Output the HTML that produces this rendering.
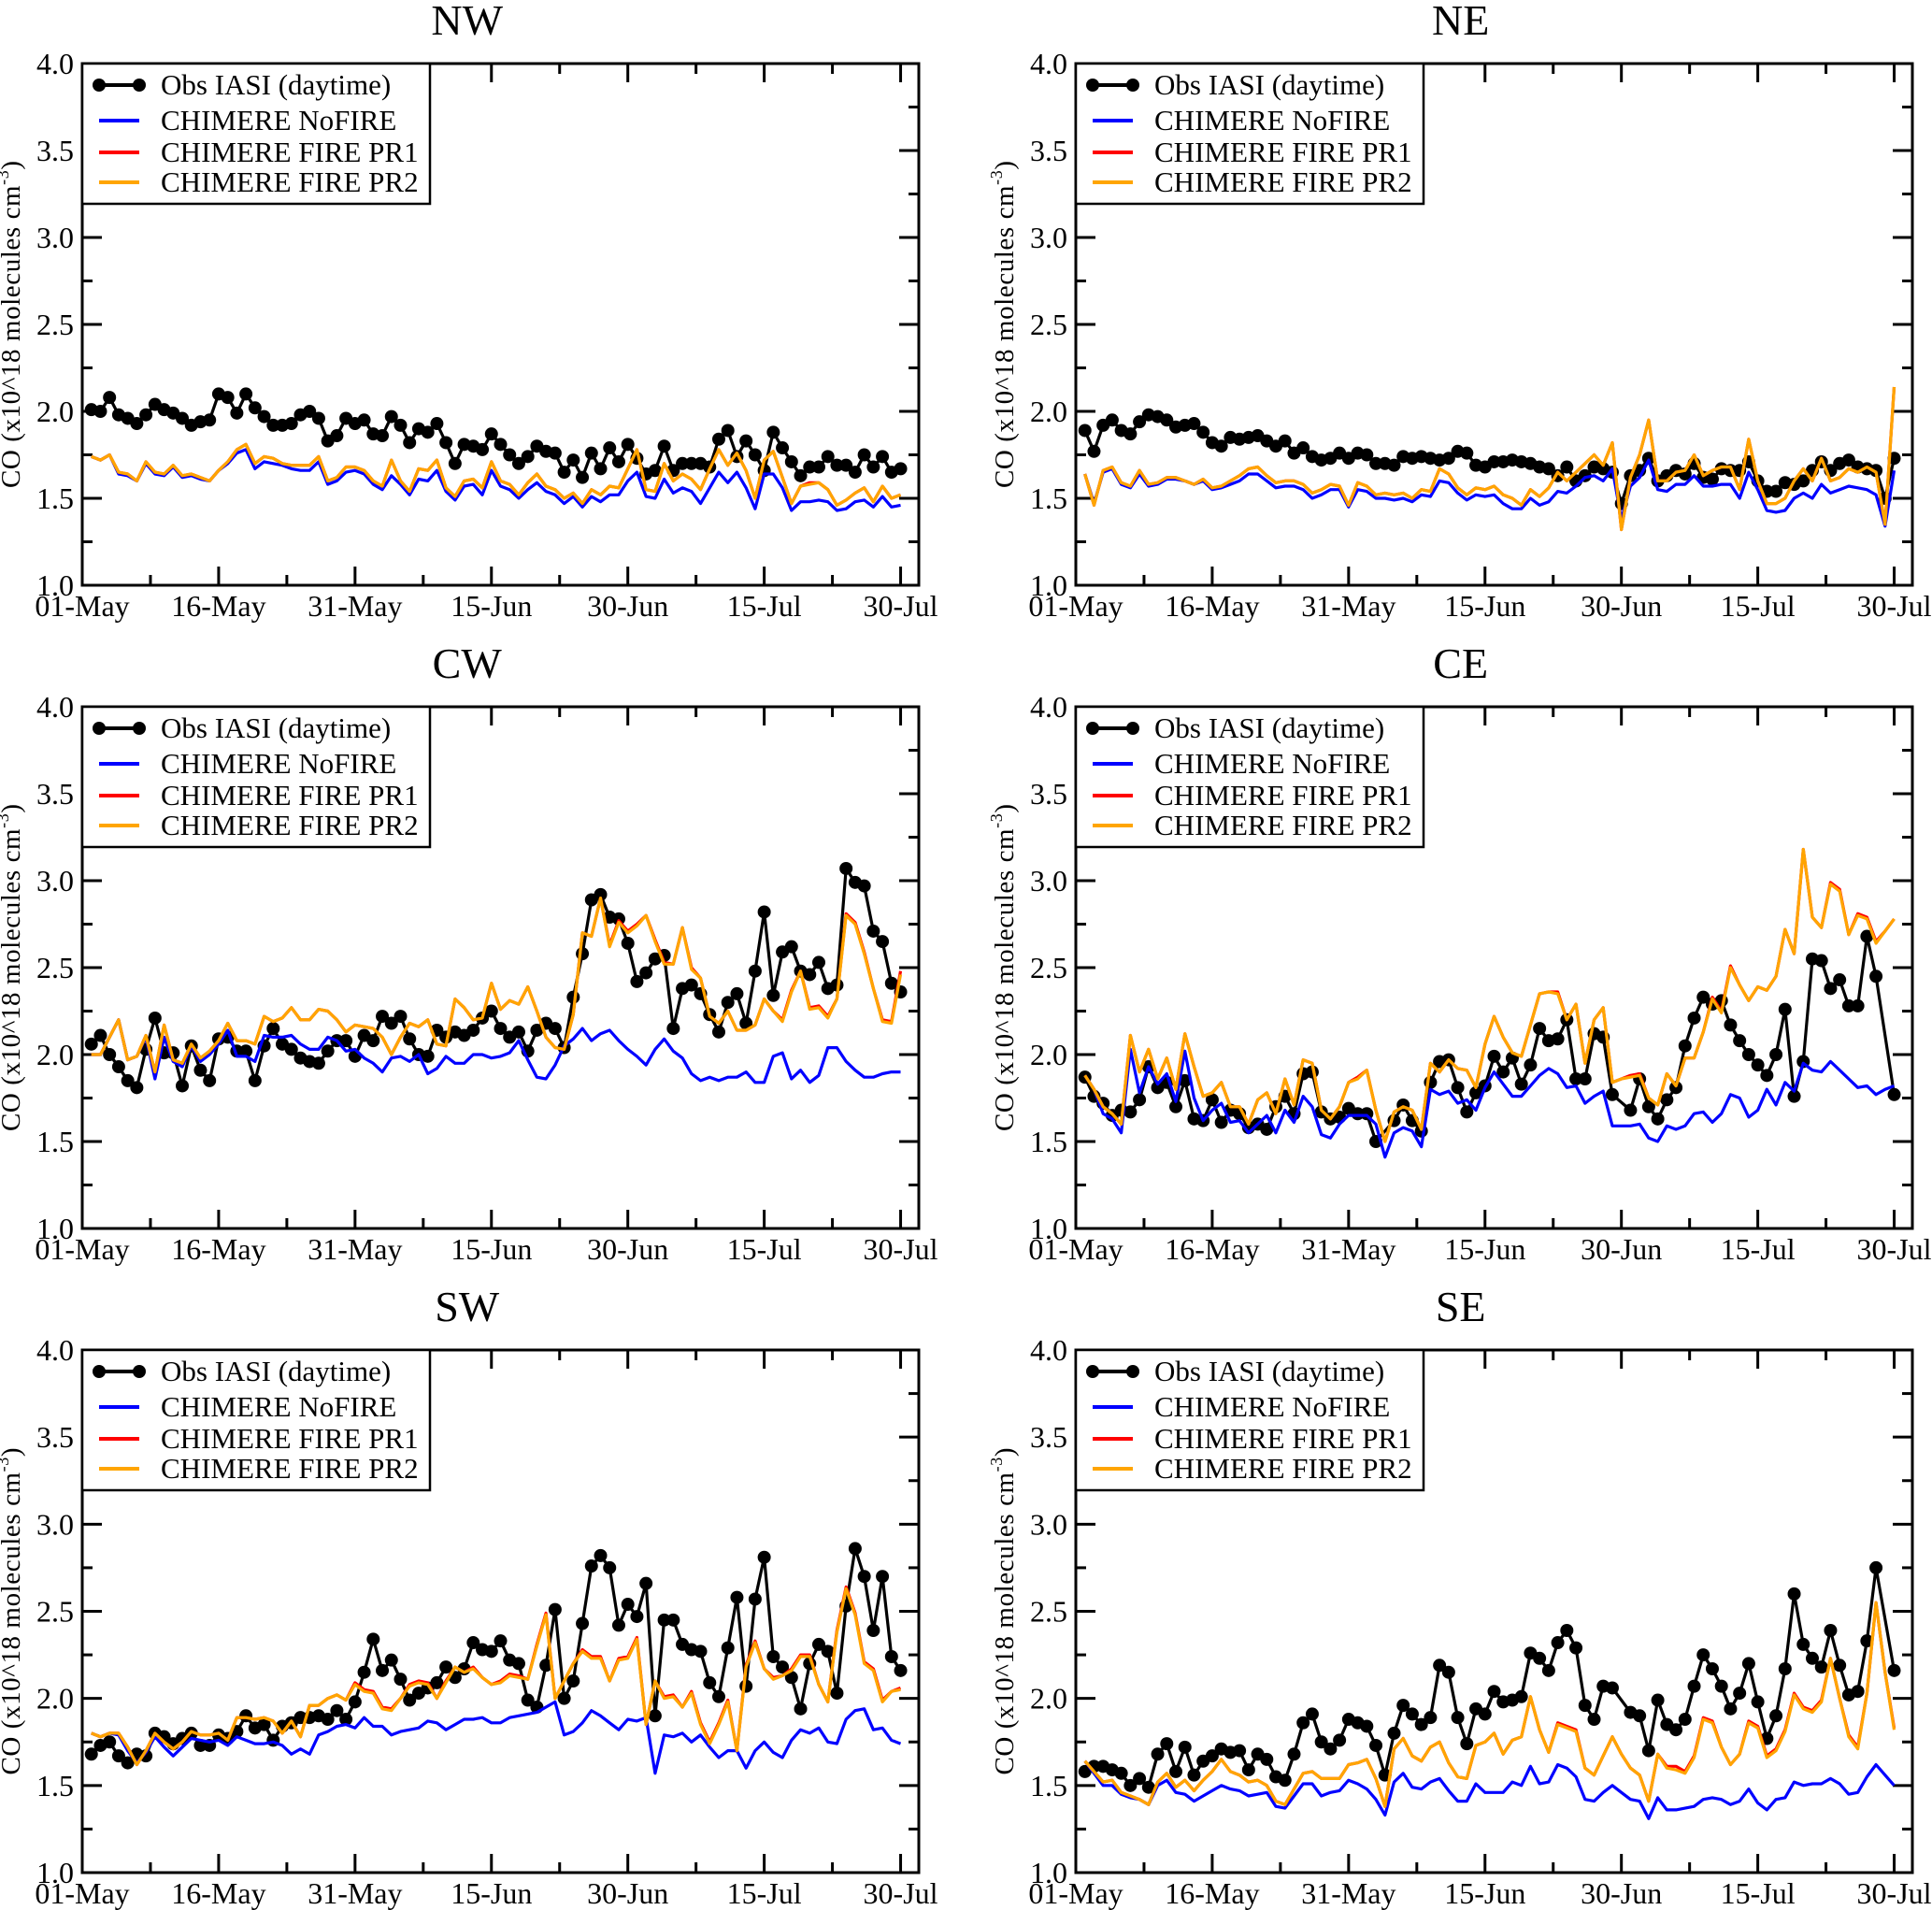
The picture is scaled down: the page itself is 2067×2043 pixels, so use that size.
<!DOCTYPE html>
<html><head><meta charset="utf-8"><style>
html,body{margin:0;padding:0;background:#fff;}
svg{display:block;font-family:"Liberation Serif",serif;}
</style></head><body>
<svg id="chart" xmlns="http://www.w3.org/2000/svg" width="2067" height="2043" viewBox="0 0 2067 2043"></svg>
<script>
const xTickLabels=["01-May","16-May","31-May","15-Jun","30-Jun","15-Jul","30-Jul"];
const xTickDays=[0,15,30,45,60,75,90];
const yTicks=[1.0,1.5,2.0,2.5,3.0,3.5,4.0];
const panelNames=["NW","NE","CW","CE","SW","SE"];
const legendLabels=["Obs IASI (daytime)","CHIMERE NoFIRE","CHIMERE FIRE PR1","CHIMERE FIRE PR2"];

const nwObs=[2.01,2.0,2.08,1.98,1.96,1.93,1.98,2.04,2.01,1.99,1.96,1.92,1.94,1.95,2.1,2.08,1.99,2.1,2.02,1.97,1.92,1.92,1.93,1.98,2.0,1.96,1.83,1.86,1.96,1.93,1.95,1.87,1.86,1.97,1.92,1.82,1.9,1.88,1.93,1.82,1.7,1.81,1.8,1.78,1.87,1.81,1.75,1.7,1.74,1.8,1.77,1.76,1.65,1.72,1.62,1.76,1.67,1.79,1.71,1.81,1.73,1.64,1.66,1.8,1.66,1.7,1.7,1.7,1.68,1.84,1.89,1.74,1.83,1.75,1.66,1.88,1.79,1.71,1.63,1.68,1.68,1.74,1.69,1.69,1.65,1.75,1.68,1.74,1.65,1.67];
const nwNoFire=[1.74,1.72,1.75,1.64,1.63,1.6,1.7,1.64,1.63,1.68,1.62,1.63,1.61,1.6,1.66,1.7,1.76,1.78,1.67,1.71,1.7,1.69,1.67,1.66,1.66,1.71,1.58,1.6,1.65,1.66,1.64,1.58,1.55,1.63,1.58,1.52,1.61,1.6,1.66,1.54,1.49,1.57,1.58,1.52,1.66,1.57,1.55,1.5,1.55,1.59,1.54,1.52,1.47,1.51,1.45,1.51,1.48,1.52,1.52,1.6,1.65,1.51,1.5,1.61,1.53,1.56,1.54,1.47,1.56,1.65,1.59,1.65,1.56,1.44,1.64,1.64,1.56,1.43,1.48,1.48,1.49,1.48,1.43,1.44,1.48,1.49,1.45,1.51,1.45,1.46];
const nwPR1=[1.74,1.72,1.75,1.65,1.64,1.6,1.71,1.65,1.64,1.69,1.63,1.64,1.62,1.6,1.66,1.71,1.78,1.81,1.7,1.74,1.73,1.7,1.69,1.69,1.69,1.74,1.6,1.62,1.68,1.68,1.66,1.6,1.57,1.72,1.6,1.54,1.67,1.66,1.72,1.56,1.51,1.6,1.61,1.56,1.71,1.6,1.58,1.52,1.59,1.64,1.57,1.55,1.5,1.53,1.47,1.55,1.52,1.57,1.56,1.67,1.78,1.55,1.54,1.7,1.6,1.64,1.61,1.55,1.67,1.78,1.69,1.76,1.66,1.5,1.72,1.77,1.62,1.47,1.57,1.59,1.59,1.55,1.46,1.49,1.53,1.56,1.48,1.57,1.5,1.52];
const nwPR2=[1.74,1.72,1.75,1.65,1.64,1.6,1.71,1.65,1.64,1.69,1.63,1.64,1.62,1.6,1.66,1.71,1.78,1.81,1.7,1.74,1.73,1.7,1.69,1.69,1.69,1.74,1.6,1.62,1.68,1.68,1.66,1.6,1.57,1.72,1.6,1.54,1.67,1.66,1.72,1.56,1.51,1.6,1.61,1.56,1.71,1.6,1.58,1.52,1.59,1.64,1.57,1.55,1.5,1.53,1.47,1.55,1.52,1.57,1.56,1.67,1.78,1.55,1.54,1.7,1.6,1.64,1.61,1.55,1.67,1.78,1.69,1.76,1.66,1.5,1.72,1.77,1.62,1.47,1.57,1.58,1.59,1.55,1.46,1.49,1.53,1.56,1.48,1.57,1.5,1.52];

const neObs=[1.89,1.77,1.92,1.95,1.89,1.87,1.94,1.98,1.97,1.95,1.91,1.92,1.93,1.88,1.82,1.8,1.85,1.84,1.85,1.86,1.83,1.8,1.83,1.76,1.79,1.74,1.72,1.73,1.76,1.73,1.76,1.75,1.7,1.7,1.69,1.74,1.73,1.74,1.73,1.72,1.73,1.77,1.76,1.69,1.68,1.71,1.71,1.72,1.71,1.7,1.68,1.67,1.63,1.68,1.6,1.63,1.68,1.67,1.65,1.47,1.63,1.66,1.73,1.6,1.63,1.66,1.64,1.7,1.62,1.61,1.67,1.66,1.66,1.71,1.6,1.54,1.54,1.59,1.58,1.6,1.66,1.71,1.66,1.7,1.72,1.68,1.67,1.66,1.5,1.73];
const neNoFire=[1.64,1.47,1.65,1.67,1.58,1.56,1.64,1.57,1.58,1.61,1.61,1.6,1.58,1.6,1.55,1.56,1.58,1.6,1.64,1.64,1.6,1.56,1.57,1.57,1.55,1.5,1.52,1.55,1.55,1.45,1.55,1.54,1.5,1.5,1.49,1.5,1.48,1.52,1.51,1.6,1.59,1.53,1.49,1.52,1.51,1.52,1.47,1.44,1.44,1.5,1.46,1.48,1.54,1.53,1.57,1.62,1.63,1.6,1.67,1.38,1.57,1.62,1.72,1.55,1.54,1.58,1.58,1.63,1.57,1.57,1.58,1.58,1.5,1.65,1.55,1.43,1.42,1.43,1.5,1.53,1.5,1.58,1.53,1.55,1.57,1.56,1.55,1.52,1.34,1.66];
const nePR1=[1.64,1.46,1.66,1.68,1.59,1.57,1.66,1.58,1.59,1.62,1.62,1.6,1.58,1.61,1.56,1.57,1.6,1.63,1.67,1.68,1.63,1.59,1.6,1.6,1.58,1.53,1.55,1.58,1.57,1.46,1.59,1.57,1.52,1.53,1.52,1.53,1.5,1.55,1.54,1.67,1.64,1.56,1.52,1.56,1.55,1.57,1.52,1.5,1.46,1.55,1.51,1.56,1.65,1.6,1.65,1.7,1.75,1.69,1.82,1.32,1.62,1.75,1.95,1.6,1.6,1.65,1.66,1.75,1.63,1.66,1.68,1.68,1.55,1.84,1.6,1.47,1.47,1.5,1.6,1.67,1.6,1.73,1.6,1.62,1.67,1.65,1.68,1.65,1.35,2.14];
const nePR2=[1.64,1.46,1.66,1.68,1.59,1.57,1.66,1.58,1.59,1.62,1.62,1.6,1.58,1.61,1.56,1.57,1.6,1.63,1.67,1.68,1.63,1.59,1.6,1.6,1.58,1.53,1.55,1.58,1.57,1.46,1.59,1.57,1.52,1.53,1.52,1.53,1.5,1.55,1.54,1.67,1.64,1.56,1.52,1.56,1.55,1.57,1.52,1.5,1.46,1.55,1.51,1.56,1.65,1.6,1.65,1.7,1.75,1.69,1.82,1.32,1.62,1.75,1.95,1.6,1.6,1.65,1.66,1.75,1.63,1.66,1.68,1.68,1.55,1.84,1.6,1.47,1.47,1.5,1.6,1.67,1.6,1.73,1.6,1.62,1.67,1.65,1.68,1.65,1.35,2.14];

const cwObs=[2.06,2.11,2.0,1.93,1.85,1.81,2.03,2.21,2.01,2.01,1.82,2.05,1.91,1.85,2.09,2.1,2.02,2.02,1.85,2.05,2.15,2.06,2.03,1.98,1.96,1.95,2.02,2.08,2.08,1.99,2.11,2.08,2.22,2.18,2.22,2.09,2.0,1.99,2.14,2.1,2.13,2.11,2.14,2.21,2.25,2.15,2.1,2.13,2.02,2.14,2.18,2.15,2.04,2.33,2.58,2.89,2.92,2.79,2.78,2.64,2.42,2.47,2.55,2.57,2.15,2.38,2.4,2.35,2.23,2.13,2.3,2.35,2.18,2.48,2.82,2.34,2.59,2.62,2.48,2.46,2.53,2.38,2.4,3.07,2.99,2.97,2.71,2.65,2.41,2.36];
const cwNoFire=[2.0,2.0,2.1,2.2,1.97,1.99,2.1,1.86,2.1,1.96,1.93,2.05,1.96,2.0,2.06,2.14,1.99,1.99,1.96,2.11,2.1,2.1,2.11,2.06,2.03,2.03,2.1,2.08,2.02,2.03,1.98,1.95,1.9,1.98,1.99,1.96,2.0,1.89,1.92,1.99,1.95,1.95,2.0,2.0,1.98,1.99,2.01,2.08,1.97,1.87,1.86,1.94,2.05,2.09,2.15,2.08,2.12,2.14,2.08,2.03,1.99,1.94,2.03,2.09,2.02,1.98,1.89,1.85,1.87,1.85,1.87,1.87,1.9,1.84,1.84,1.99,2.01,1.86,1.91,1.84,1.88,2.04,2.04,1.96,1.91,1.87,1.87,1.89,1.9,1.9];
const cwPR1=[2.0,2.0,2.1,2.2,1.97,1.99,2.11,1.9,2.17,1.97,1.95,2.06,1.98,2.02,2.08,2.18,2.08,2.08,2.06,2.22,2.19,2.21,2.27,2.2,2.2,2.26,2.25,2.2,2.13,2.17,2.16,2.15,2.1,2.0,2.1,2.18,2.16,2.2,2.06,2.05,2.32,2.27,2.2,2.21,2.41,2.26,2.31,2.29,2.39,2.25,2.1,2.04,2.03,2.23,2.7,2.68,2.9,2.63,2.77,2.71,2.75,2.8,2.66,2.53,2.52,2.73,2.5,2.44,2.22,2.18,2.25,2.14,2.14,2.17,2.32,2.25,2.2,2.37,2.48,2.27,2.28,2.22,2.32,2.81,2.76,2.59,2.38,2.2,2.19,2.48];
const cwPR2=[2.0,2.0,2.1,2.2,1.97,1.99,2.11,1.9,2.17,1.97,1.95,2.06,1.98,2.02,2.08,2.18,2.08,2.08,2.06,2.22,2.19,2.21,2.27,2.2,2.2,2.26,2.25,2.2,2.13,2.17,2.16,2.15,2.1,2.0,2.1,2.18,2.16,2.2,2.06,2.05,2.32,2.27,2.2,2.21,2.41,2.26,2.31,2.29,2.39,2.25,2.1,2.04,2.03,2.23,2.7,2.68,2.9,2.62,2.76,2.7,2.74,2.8,2.65,2.52,2.52,2.73,2.49,2.44,2.22,2.18,2.25,2.14,2.14,2.17,2.32,2.25,2.19,2.36,2.48,2.26,2.27,2.21,2.32,2.8,2.75,2.58,2.38,2.19,2.18,2.46];

const ceObs=[1.87,1.76,1.72,1.65,1.68,1.67,1.74,1.93,1.81,1.84,1.7,1.85,1.63,1.62,1.74,1.61,1.68,1.66,1.58,1.6,1.57,1.7,1.76,1.66,1.89,1.9,1.67,1.63,1.64,1.69,1.66,1.66,1.5,null,1.62,1.71,1.62,1.56,1.84,1.96,1.97,1.81,1.67,1.78,1.82,1.99,1.9,1.98,1.83,1.94,2.15,2.08,2.09,2.2,1.86,1.86,2.12,2.1,1.77,null,1.68,1.86,1.7,1.63,1.74,1.81,2.05,2.21,2.33,2.29,2.31,2.17,2.08,2.0,1.94,1.88,2.0,2.26,1.76,1.96,2.55,2.54,2.38,2.43,2.28,2.28,2.68,2.45,null,1.77];
const ceNoFire=[1.88,1.8,1.66,1.63,1.55,2.03,1.78,1.93,1.83,1.89,1.73,2.02,1.75,1.62,1.68,1.72,1.61,1.62,1.55,1.6,1.65,1.55,1.68,1.61,1.76,1.7,1.54,1.52,1.6,1.65,1.65,1.65,1.6,1.41,1.55,1.58,1.56,1.47,1.8,1.77,1.79,1.72,1.74,1.68,1.81,1.9,1.83,1.76,1.76,1.82,1.88,1.92,1.89,1.81,1.82,1.72,1.76,1.79,1.59,1.59,1.59,1.6,1.52,1.5,1.59,1.57,1.59,1.66,1.67,1.61,1.66,1.77,1.75,1.64,1.68,1.8,1.71,1.84,1.79,1.95,1.91,1.9,1.96,1.91,1.86,1.81,1.82,1.77,1.8,1.82];
const cePR1=[1.88,1.8,1.7,1.66,1.6,2.11,1.9,2.03,1.86,1.98,1.8,2.12,1.93,1.76,1.78,1.84,1.7,1.7,1.6,1.74,1.78,1.66,1.86,1.71,1.97,1.95,1.68,1.63,1.7,1.84,1.87,1.91,1.68,1.5,1.67,1.7,1.68,1.57,1.95,1.9,1.97,1.92,1.91,1.81,2.06,2.22,2.1,2.01,1.99,2.17,2.35,2.36,2.36,2.2,2.29,1.95,2.2,2.27,1.84,1.86,1.88,1.89,1.75,1.71,1.89,1.82,1.98,1.98,2.13,2.33,2.25,2.51,2.4,2.31,2.39,2.37,2.45,2.72,2.58,3.18,2.79,2.73,2.99,2.95,2.69,2.81,2.79,2.65,2.71,2.78];
const cePR2=[1.88,1.8,1.7,1.66,1.6,2.11,1.9,2.03,1.86,1.98,1.8,2.12,1.93,1.76,1.78,1.84,1.7,1.7,1.6,1.74,1.78,1.66,1.86,1.71,1.97,1.95,1.68,1.63,1.7,1.84,1.86,1.91,1.68,1.5,1.67,1.7,1.68,1.57,1.95,1.9,1.97,1.92,1.91,1.81,2.06,2.22,2.1,2.01,1.99,2.17,2.35,2.36,2.35,2.2,2.29,1.95,2.2,2.27,1.84,1.86,1.87,1.88,1.75,1.71,1.89,1.82,1.98,1.98,2.13,2.32,2.24,2.5,2.4,2.31,2.39,2.37,2.45,2.72,2.58,3.18,2.79,2.73,2.98,2.94,2.69,2.8,2.78,2.64,2.71,2.78];

const swObs=[1.68,1.73,1.75,1.67,1.63,1.68,1.67,1.8,1.78,1.74,1.77,1.8,1.73,1.73,1.79,1.77,1.81,1.9,1.83,1.85,1.76,1.84,1.86,1.89,1.89,1.9,1.88,1.93,1.88,1.98,2.15,2.34,2.16,2.22,2.11,1.99,2.03,2.06,2.09,2.18,2.12,2.17,2.32,2.28,2.27,2.33,2.22,2.2,1.99,1.95,2.19,2.51,2.0,2.1,2.43,2.76,2.82,2.75,2.42,2.54,2.47,2.66,1.9,2.45,2.45,2.31,2.28,2.27,2.09,2.01,2.29,2.58,2.07,2.57,2.81,2.24,2.18,2.12,1.94,2.2,2.31,2.27,2.03,2.53,2.86,2.7,2.39,2.7,2.24,2.16];
const swNoFire=[1.8,1.78,1.8,1.79,1.7,1.63,1.69,1.78,1.72,1.67,1.72,1.77,1.76,1.75,1.76,1.73,1.78,1.76,1.74,1.74,1.75,1.73,1.68,1.71,1.68,1.79,1.81,1.84,1.85,1.83,1.89,1.84,1.84,1.79,1.81,1.82,1.83,1.87,1.86,1.82,1.85,1.88,1.88,1.89,1.86,1.86,1.89,1.9,1.91,1.92,1.95,1.98,1.79,1.81,1.86,1.93,1.9,1.86,1.82,1.88,1.87,1.89,1.57,1.79,1.78,1.8,1.75,1.79,1.72,1.66,1.7,1.7,1.6,1.7,1.75,1.69,1.66,1.76,1.82,1.8,1.83,1.75,1.74,1.88,1.93,1.94,1.82,1.83,1.76,1.74];
const swPR1=[1.8,1.78,1.8,1.8,1.72,1.62,1.7,1.8,1.75,1.71,1.75,1.81,1.79,1.79,1.8,1.76,1.89,1.89,1.88,1.89,1.87,1.8,1.87,1.78,1.96,1.96,2.0,2.02,1.99,2.09,2.05,2.04,1.95,1.94,2.0,2.08,2.1,2.09,2.0,2.1,2.18,2.15,2.18,2.12,2.08,2.1,2.14,2.13,2.11,2.31,2.49,2.0,2.1,2.2,2.28,2.24,2.24,2.1,2.23,2.24,2.35,1.85,2.1,2.01,2.02,1.95,2.04,1.86,1.75,1.86,1.99,1.7,2.19,2.33,2.17,2.12,2.13,2.17,2.25,2.25,2.08,1.98,2.39,2.64,2.49,2.21,2.17,1.99,2.04,2.06];
const swPR2=[1.8,1.78,1.8,1.8,1.72,1.62,1.7,1.8,1.75,1.71,1.75,1.81,1.79,1.79,1.8,1.76,1.89,1.89,1.88,1.89,1.87,1.8,1.87,1.78,1.96,1.96,2.0,2.02,1.99,2.08,2.04,2.03,1.94,1.93,2.0,2.07,2.09,2.08,2.0,2.09,2.18,2.15,2.17,2.12,2.08,2.09,2.13,2.12,2.11,2.3,2.48,2.0,2.1,2.2,2.27,2.23,2.23,2.1,2.22,2.23,2.34,1.85,2.1,2.0,2.01,1.95,2.03,1.85,1.74,1.85,1.98,1.7,2.18,2.32,2.17,2.11,2.13,2.16,2.24,2.24,2.08,1.98,2.38,2.63,2.48,2.2,2.16,1.98,2.04,2.05];

const seObs=[1.58,1.61,1.61,1.59,1.57,1.5,1.54,1.49,1.68,1.74,1.58,1.72,1.56,1.64,1.67,1.71,1.69,1.7,1.59,1.68,1.65,1.55,1.53,1.68,1.86,1.91,1.75,1.71,1.76,1.88,1.86,1.84,1.73,1.56,1.8,1.96,1.91,1.85,1.89,2.19,2.15,1.89,1.74,1.94,1.91,2.04,1.98,1.99,2.01,2.26,2.23,2.16,2.32,2.39,2.29,1.96,1.88,2.07,2.06,null,1.92,1.9,1.7,1.99,1.85,1.82,1.88,2.07,2.25,2.17,2.07,1.94,2.03,2.2,1.98,1.77,1.9,2.17,2.6,2.31,2.23,2.18,2.39,2.19,2.02,2.04,2.33,2.75,null,2.16];
const seNoFire=[1.64,1.57,1.5,1.5,1.45,1.43,1.42,1.39,1.5,1.53,1.46,1.45,1.41,1.44,1.47,1.5,1.48,1.47,1.44,1.45,1.46,1.38,1.37,1.44,1.51,1.51,1.44,1.46,1.47,1.53,1.51,1.48,1.42,1.33,1.52,1.57,1.49,1.48,1.52,1.54,1.47,1.41,1.41,1.51,1.46,1.46,1.46,1.52,1.5,1.61,1.51,1.52,1.62,1.6,1.55,1.42,1.41,1.46,1.5,1.46,1.42,1.41,1.31,1.43,1.36,1.36,1.37,1.38,1.42,1.43,1.42,1.39,1.41,1.48,1.4,1.36,1.42,1.43,1.52,1.5,1.51,1.51,1.54,1.51,1.45,1.46,1.55,1.62,1.56,1.5];
const sePR1=[1.64,1.58,1.52,1.53,1.46,1.44,1.42,1.39,1.52,1.57,1.49,1.53,1.47,1.53,1.58,1.65,1.58,1.56,1.52,1.53,1.5,1.41,1.39,1.48,1.57,1.58,1.54,1.54,1.54,1.62,1.63,1.65,1.54,1.38,1.71,1.77,1.67,1.64,1.72,1.75,1.63,1.55,1.54,1.73,1.75,1.8,1.68,1.76,1.78,2.01,1.82,1.69,1.86,1.84,1.82,1.6,1.56,1.67,1.78,1.68,1.6,1.56,1.41,1.68,1.61,1.61,1.58,1.67,1.89,1.87,1.72,1.62,1.68,1.87,1.84,1.67,1.71,1.82,2.03,1.95,1.93,1.99,2.23,2.0,1.79,1.72,2.03,2.55,2.15,1.83];
const sePR2=[1.64,1.58,1.52,1.53,1.46,1.44,1.42,1.39,1.52,1.57,1.49,1.53,1.47,1.53,1.58,1.65,1.58,1.56,1.52,1.53,1.5,1.41,1.39,1.48,1.57,1.58,1.54,1.54,1.54,1.62,1.63,1.65,1.54,1.38,1.71,1.77,1.67,1.64,1.72,1.75,1.63,1.55,1.54,1.73,1.75,1.8,1.68,1.76,1.78,2.01,1.82,1.69,1.85,1.83,1.81,1.6,1.56,1.67,1.78,1.68,1.6,1.56,1.41,1.68,1.6,1.59,1.57,1.66,1.88,1.86,1.72,1.62,1.68,1.86,1.83,1.66,1.7,1.81,2.02,1.94,1.92,1.98,2.23,2.0,1.78,1.71,2.03,2.55,2.15,1.82];

const panelObs=[nwObs,neObs,cwObs,ceObs,swObs,seObs];
const panelNoFire=[nwNoFire,neNoFire,cwNoFire,ceNoFire,swNoFire,seNoFire];
const panelPR1=[nwPR1,nePR1,cwPR1,cePR1,swPR1,sePR1];
const panelPR2=[nwPR2,nePR2,cwPR2,cePR2,swPR2,sePR2];

const NS="http://www.w3.org/2000/svg";
const svg=document.getElementById("chart");
const colLeft=[88,1151], colW=[895,895];
const rowTop=[68,756,1444], rowH=[558,558,559];
const XMAX=92, YMIN=1, YMAX=4;
function mk(tag,attrs,parent){const e=document.createElementNS(NS,tag);for(const k in attrs)e.setAttribute(k,attrs[k]);(parent||svg).appendChild(e);return e;}

panelNames.forEach((name,p)=>{
  const c=p%2, r=Math.floor(p/2);
  const L=colLeft[c], T=rowTop[r], W=colW[c], H=rowH[r];
  const xS=d=>L+d/XMAX*W;
  const yS=v=>T+(YMAX-v)/(YMAX-YMIN)*H;
  const g=mk("g",{});
  
  
  const title=mk("text",{x:L+W*0.46,y:T-31,"font-size":46,"text-anchor":"middle"},g);
  title.textContent=name;
  
  
  const yt=mk("text",{transform:`translate(${L-67},${T+H/2}) rotate(-90)`,"font-size":29,"text-anchor":"middle","textLength":350,"lengthAdjust":"spacing"},g);
  yt.innerHTML='CO (x10^18 molecules cm<tspan font-size="18" dy="-12">-3</tspan><tspan dy="12">)</tspan>';
  
  
  const tg=mk("g",{stroke:"#000","stroke-width":3},g);
  
  
  for(let v=1;v<=4.001;v+=0.25){
    const major=Math.abs(v*2-Math.round(v*2))<1e-6, len=major?21:11, y=yS(v);
    mk("line",{x1:L,x2:L+len,y1:y,y2:y},tg);
    mk("line",{x1:L+W,x2:L+W-len,y1:y,y2:y},tg);
  }
  for(let d=0;d<=XMAX;d+=7.5){
    const major=(d%15===0), len=major?20:11, x=xS(d);
    mk("line",{x1:x,x2:x,y1:T+H,y2:T+H-len},tg);
    mk("line",{x1:x,x2:x,y1:T,y2:T+len},tg);
  }
  yTicks.forEach(v=>{
    const t=mk("text",{x:L-9,y:yS(v)+11,"font-size":32,"text-anchor":"end"},g);
    t.textContent=v.toFixed(1);
    
    
  });
  xTickDays.forEach((d,i)=>{
    const t=mk("text",{x:xS(d),y:T+H+33,"font-size":32,"text-anchor":"middle"},g);
    t.textContent=xTickLabels[i];
    
    
  });
  function lineOf(arr,color,nm){
    let dstr="";
    arr.forEach((v,i)=>{if(v===null)return;dstr+=(dstr?"L":"M")+xS(i+1).toFixed(1)+" "+yS(v).toFixed(1);});
    const pth=mk("path",{d:dstr,fill:"none",stroke:color,"stroke-width":3.2,"stroke-linejoin":"round"},g);
    
    
  }
  lineOf(panelObs[p],"#000","obs-line");
  const dg=mk("g",{fill:"#000"},g);
  
  
  panelObs[p].forEach((v,i)=>{if(v===null)return;
    const ci=mk("circle",{cx:xS(i+1),cy:yS(v),r:7},dg);
    
    
  });
  lineOf(panelNoFire[p],"#0000ff","nofire-line");
  lineOf(panelPR1[p],"#ff0000","fire-pr1-line");
  lineOf(panelPR2[p],"#ffa500","fire-pr2-line");
  const fr=mk("rect",{x:L,y:T,width:W,height:H,fill:"none",stroke:"#000","stroke-width":3},g);
  
  
  const lg=mk("g",{},g);
  
  
  mk("rect",{x:L,y:T,width:372,height:150,fill:"#fff",stroke:"#000","stroke-width":2.5},lg);
  const cols=["#000","#0000ff","#ff0000","#ffa500"], offs=[23,61,95,127];
  legendLabels.forEach((lab,i)=>{
    const y=T+offs[i];
    const e=mk("g",{},lg);
    
    
    mk("line",{x1:L+18,x2:L+61,y1:y,y2:y,stroke:cols[i],"stroke-width":4},e);
    if(i===0){mk("circle",{cx:L+18,cy:y,r:7,fill:"#000"},e);mk("circle",{cx:L+61,cy:y,r:7,fill:"#000"},e);}
    const t=mk("text",{x:L+84,y:y+10,"font-size":31},e);
    t.textContent=lab;
  });
});
</script>
</body></html>
